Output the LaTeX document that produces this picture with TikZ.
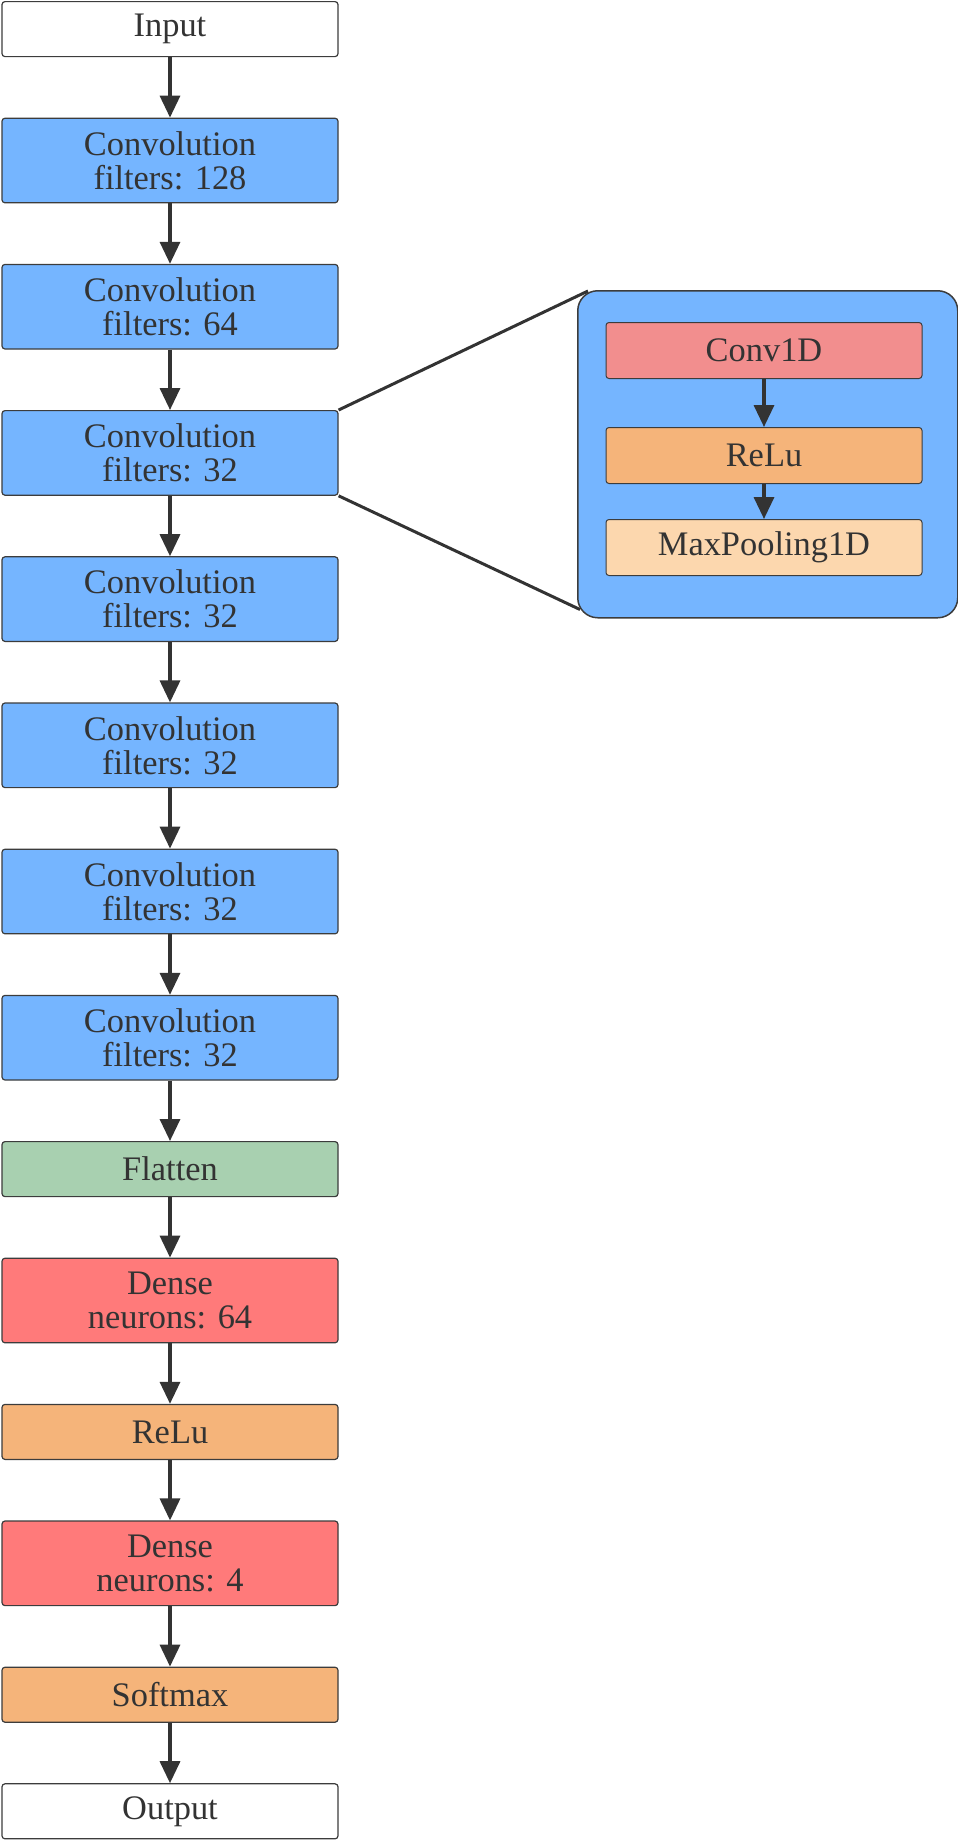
\documentclass[tikz,border=0pt]{standalone}
\usepackage{fontspec}
\setmainfont{Liberation Serif}
\usetikzlibrary{positioning, arrows.meta}

\definecolor{convblue}{RGB}{117,181,255}
\definecolor{denseRed}{RGB}{255,122,122}
\definecolor{convRed}{RGB}{242,142,142}
\definecolor{reluOrange}{RGB}{245,180,122}
\definecolor{poolPeach}{RGB}{252,215,174}
\definecolor{flatGreen}{RGB}{168,208,176}
\definecolor{edgeGray}{RGB}{60,60,60}
\definecolor{inkGray}{RGB}{51,51,51}

\tikzset{
    layer/.style={draw=edgeGray, line width=0.6pt, rounded corners=1.5pt, minimum width=168pt,
        text=inkGray, align=center, inner sep=0pt, font=\fontsize{17.2}{17}\selectfont},
    single/.style={layer, minimum height=27.5pt},
    double/.style={layer, minimum height=42.3pt},
    sublayer/.style={layer, line width=0.5pt, minimum width=158pt, minimum height=28pt},
    inset/.style={draw=edgeGray, line width=0.75pt, fill=convblue, rounded corners=10pt,
        minimum width=190pt, minimum height=163.5pt},
    flow/.style={draw=inkGray, line width=1.7pt, -{Triangle[width=10pt,length=11pt]}},
    link/.style={draw=inkGray, line width=1.5pt}
}

\begin{document}
\begin{tikzpicture}[node distance=30.2pt]
    \useasboundingbox (0,0) rectangle (479pt,-922pt);
    % main stack
    \node[single, fill=white, anchor=north] (input) at (85pt,-0.5pt) {Input};
    \node[double, fill=convblue, below=of input] (conv1) {Convolution\\filters: 128};
    \node[double, fill=convblue, below=of conv1] (conv2) {Convolution\\filters: 64};
    \node[double, fill=convblue, below=of conv2] (conv3) {Convolution\\filters: 32};
    \node[double, fill=convblue, below=of conv3] (conv4) {Convolution\\filters: 32};
    \node[double, fill=convblue, below=of conv4] (conv5) {Convolution\\filters: 32};
    \node[double, fill=convblue, below=of conv5] (conv6) {Convolution\\filters: 32};
    \node[double, fill=convblue, below=of conv6] (conv7) {Convolution\\filters: 32};
    \node[single, fill=flatGreen, below=of conv7] (flatten) {Flatten};
    \node[double, fill=denseRed, below=of flatten] (dense1) {Dense\\neurons: 64};
    \node[single, fill=reluOrange, below=of dense1] (relu) {ReLu};
    \node[double, fill=denseRed, below=of relu] (dense2) {Dense\\neurons: 4};
    \node[single, fill=reluOrange, below=of dense2] (softmax) {Softmax};
    \node[single, fill=white, below=of softmax] (output) {Output};
    \foreach \a/\b in {input/conv1, conv1/conv2, conv2/conv3, conv3/conv4, conv4/conv5,
        conv5/conv6, conv6/conv7, conv7/flatten, flatten/dense1, dense1/relu,
        relu/dense2, dense2/softmax, softmax/output}
        \draw[flow] (\a) -- (\b);

    % zoomed block
    \node[inset, anchor=north west] (zoom) at (288.5pt,-145pt) {};
    \node[sublayer, fill=convRed, anchor=north] (conv1d) at (382pt,-161pt) {Conv1D};
    \node[sublayer, fill=reluOrange, below=24pt of conv1d] (subrelu) {ReLu};
    \node[sublayer, fill=poolPeach, below=17.5pt of subrelu] (pool) {MaxPooling1D};
    \draw[flow] (conv1d) -- (subrelu);
    \draw[flow] (subrelu) -- (pool);
    \draw[link] (conv3.north east) -- ([shift={(5.5pt,-0.5pt)}]zoom.north west);
    \draw[link] (conv3.south east) -- ([shift={(1.5pt,4.5pt)}]zoom.south west);
\end{tikzpicture}
\end{document}
